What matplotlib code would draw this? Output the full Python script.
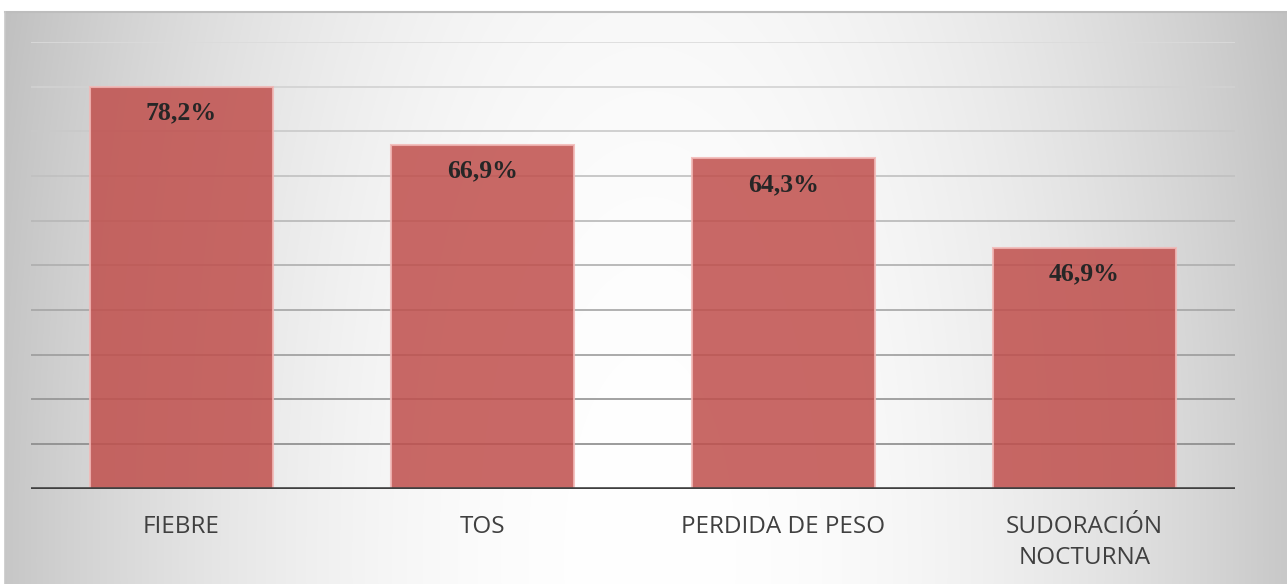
import numpy as np
import matplotlib
matplotlib.use("Agg")
import matplotlib.pyplot as plt
from matplotlib.lines import Line2D

categories = ["FIEBRE", "TOS", "PERDIDA DE PESO", "SUDORACIÓN\nNOCTURNA"]
values = [78.2, 66.9, 64.3, 46.9]
value_labels = ["78,2%", "66,9%", "64,3%", "46,9%"]

W, H = 1287, 584
fig = plt.figure(figsize=(W / 100, H / 100), dpi=100)
fig.patch.set_facecolor("white")

# background radial gradient panel
x0, y0 = 5, 12
bg_ax = fig.add_axes([x0 / W, 0, (W - x0) / W, (H - y0) / H], zorder=0)
xs = np.arange(x0, W) + 0.5
ys = np.arange(y0, H) + 0.5
X, Y = np.meshgrid(xs, ys)
cx, cy = 650, 560
r2 = (X - cx) ** 2 + ((Y - cy) / 2.44) ** 2
g = 255 - 1.355e-4 * r2
g = np.clip(g, 190, 255) / 255.0
bg_ax.imshow(np.dstack([g, g, g]), aspect="auto", interpolation="bilinear")
bg_ax.set_axis_off()
top = 1 - y0 / H
fig.add_artist(Line2D([x0 / W, 1], [top, top], transform=fig.transFigure,
                      color="#bdbdbd", linewidth=1.5, zorder=1))
fig.add_artist(Line2D([x0 / W, x0 / W], [0, top], transform=fig.transFigure,
                      color="#c8c8c8", linewidth=1.2, zorder=1))

ax = fig.add_axes([31 / W, 95.3 / H, (1235 - 31) / W, (488.7 - 42) / H], zorder=2)
ax.patch.set_alpha(0)
ymax = values[0] * 10 / 9
ax.set_ylim(0, ymax)
ax.set_xlim(-0.5, len(categories) - 0.5)

# gridlines with graded colours (darker at bottom)
n_grid = 10
for i in range(1, n_grid + 1):
    level = i * ymax / n_grid
    t = (i - 1) / (n_grid - 1)
    c = 0.54 + t * (0.86 - 0.54)
    ax.axhline(level, color=(c, c, c), linewidth=1.2, zorder=1)

xpos = np.arange(len(categories))
ax.bar(xpos, values, width=0.605, color="#C0504D", alpha=0.86,
       edgecolor="#F2B8B6", linewidth=1.5, zorder=2)

for x, v, lab in zip(xpos, values, value_labels):
    ax.annotate(lab, xy=(x, v), xytext=(0, -19), textcoords="offset points",
                ha="center", va="center", fontsize=18.5, fontweight="bold",
                family="Liberation Serif", color="#262626", zorder=4)

ax.axhline(0, color="#404040", linewidth=2.6, zorder=3)

ax.set_yticks([])
ax.set_xticks(xpos)
ax.set_xticklabels(categories, fontsize=17.5, color="#404040",
                   family="Open Sans", linespacing=1.4)
ax.tick_params(axis="x", length=0, pad=19)
for s in ax.spines.values():
    s.set_visible(False)

fig.savefig("out.png", dpi=100, facecolor="white")
